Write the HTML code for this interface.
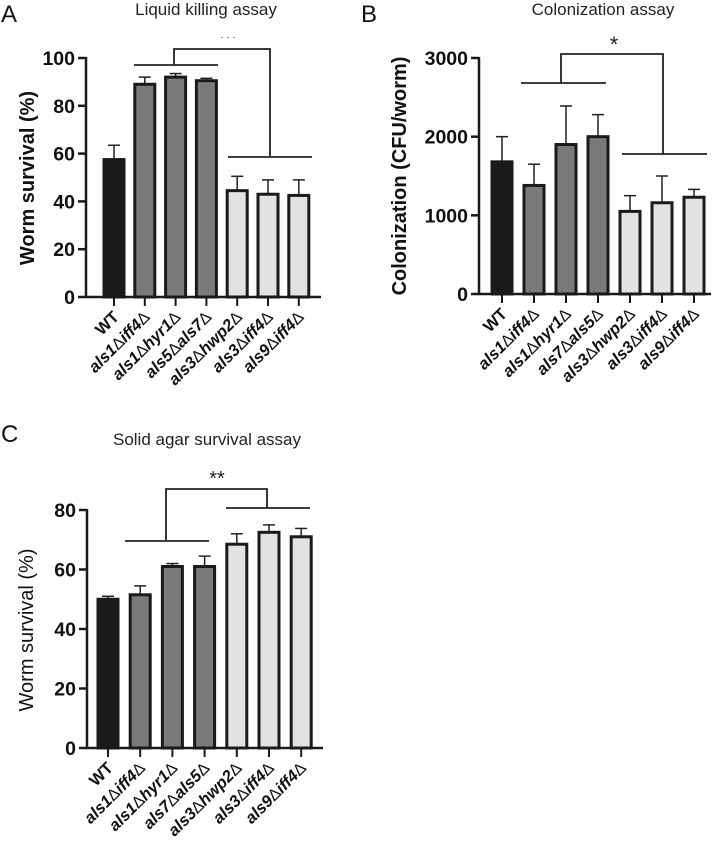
<!DOCTYPE html>
<html><head><meta charset="utf-8">
<style>
body{margin:0;background:#fff;}
svg{display:block;font-family:"Liberation Sans",Arial,sans-serif;}
</style></head>
<body>
<svg id="fig" width="718" height="843" viewBox="0 0 718 843"></svg>
<script>
const categoriesA = ["WT","als1|iff4","als1|hyr1","als5|als7","als3|hwp2","als3|iff4","als9|iff4"];
const valuesA = [57.5, 89, 92, 90.5, 44.5, 43, 42.5];
const errorsA = [6, 3, 1.5, 1, 6, 6, 6.5];
const ticksA = [0, 20, 40, 60, 80, 100];

const categoriesB = ["WT","als1|iff4","als1|hyr1","als7|als5","als3|hwp2","als3|iff4","als9|iff4"];
const valuesB = [1680, 1380, 1900, 2000, 1050, 1160, 1230];
const errorsB = [320, 270, 490, 280, 200, 340, 100];
const ticksB = [0, 1000, 2000, 3000];

const categoriesC = ["WT","als1|iff4","als1|hyr1","als7|als5","als3|hwp2","als3|iff4","als9|iff4"];
const valuesC = [50, 51.5, 61, 61, 68.5, 72.5, 71];
const errorsC = [1, 3, 1, 3.5, 3.5, 2.5, 2.8];
const ticksC = [0, 20, 40, 60, 80];

const NS = "http://www.w3.org/2000/svg";
const svg = document.getElementById("fig");
function mk(tag, attrs, parent){
  const e = document.createElementNS(NS, tag);
  for (const k in attrs) e.setAttribute(k, attrs[k]);
  (parent||svg).appendChild(e);
  return e;
}
const fills = ["#1a1a1a","#7a7a7a","#7a7a7a","#7a7a7a","#e2e2e2","#e2e2e2","#e2e2e2"];

function panel(p){
  const g = mk("g", {});
  
  
  const yScale = v => p.y0 - (v - p.min) / (p.max - p.min) * (p.y0 - p.yTop);
  const xScale = i => p.x0 + p.first + i * p.step;
  const L = mk("text", {x:p.lx, y:p.ly, "font-size":24, fill:"#111"}, g);
  L.textContent = p.letter;
  
  
  const T = mk("text", {x:p.tx, y:p.ty, "font-size":17, "text-anchor":"middle", fill:"#222"}, g);
  T.textContent = p.title;
  
  
  const YL = mk("text", {x:0, y:0, "font-size":p.ylSize, "font-weight":p.ylWeight, "text-anchor":"middle", fill:"#111",
    transform:`translate(${p.ylx},${p.yly}) rotate(-90)`}, g);
  YL.textContent = p.ylabel;
  
  
  p.values.forEach((v,i)=>{
    const cx = xScale(i);
    const top = yScale(v), et = yScale(v + p.errors[i]);
    const el = mk("line", {x1:cx, x2:cx, y1:top, y2:et, stroke:"#222", "stroke-width":1.5}, g);
    
    
    const ec = mk("line", {x1:cx-6, x2:cx+6, y1:et, y2:et, stroke:"#222", "stroke-width":1.5}, g);
    
    
    const r = mk("rect", {x:cx-p.bw/2, y:top, width:p.bw, height:p.y0-top, fill:fills[i], stroke:"#1a1a1a", "stroke-width":3}, g);
    
    
    mk("line", {x1:cx, x2:cx, y1:p.y0, y2:p.y0+9, stroke:"#1a1a1a", "stroke-width":2}, g);
    const t = mk("text", {x:0, y:0, "font-size":16.5, "font-weight":"bold", "text-anchor":"end", fill:"#111",
      transform:`translate(${cx+6},${p.y0+21}) rotate(-45)`}, g);
    
    
    const c = p.cats[i];
    if (c === "WT") { t.textContent = "WT"; }
    else {
      const parts = c.split("|");
      const s1 = mk("tspan", {"font-style":"italic"}, t); s1.textContent = parts[0];
      const d1 = mk("tspan", {"font-weight":"normal"}, t); d1.textContent = "\u0394";
      const s2 = mk("tspan", {"font-style":"italic"}, t); s2.textContent = parts[1];
      const d2 = mk("tspan", {"font-weight":"normal"}, t); d2.textContent = "\u0394";
    }
  });
  const ya = mk("line", {x1:p.x0, x2:p.x0, y1:p.yTop-1, y2:p.y0+1, stroke:"#1a1a1a", "stroke-width":2.5}, g);
  
  
  const xa = mk("line", {x1:p.x0-1, x2:p.xEnd, y1:p.y0, y2:p.y0, stroke:"#1a1a1a", "stroke-width":2.5}, g);
  
  
  p.ticks.forEach(tv=>{
    const y = yScale(tv);
    mk("line", {x1:p.x0-8, x2:p.x0, y1:y, y2:y, stroke:"#1a1a1a", "stroke-width":2.5}, g);
    const tl = mk("text", {x:p.x0-11, y:y+7, "font-size":19.5, "font-weight":"bold", "text-anchor":"end", fill:"#111"}, g);
    tl.textContent = tv;
    
    
  });
  const b = p.br;
  const br = mk("path", {d:`M${b.l1},${b.ly} H${b.l2} M${b.lv},${b.ly} V${b.top} H${b.rv} V${b.ry} M${b.r1},${b.ry} H${b.r2}`,
    fill:"none", stroke:"#222", "stroke-width":1.8}, g);
  
  
  const st = mk("text", {x:b.sx, y:b.sy, "font-size":b.ss, "text-anchor":"middle", fill:"#222"}, g);
  st.textContent = b.star;
  
  
}

panel({name:"panel-a-liquid-killing", letter:"A", lx:1, ly:22, title:"Liquid killing assay", tx:206, ty:15,
  ylabel:"Worm survival (%)", ylx:34, yly:178, ylSize:20, ylWeight:"bold",
  cats:categoriesA, values:valuesA, errors:errorsA, ticks:ticksA, min:0, max:100,
  x0:86, y0:297, yTop:58, xEnd:321, first:28, step:30.8, bw:20,
  br:{l1:134,l2:218,ly:65,lv:174,top:49,rv:270,ry:157,r1:228,r2:312,sx:228,sy:40,star:"· · ·",ss:10}});

panel({name:"panel-b-colonization", letter:"B", lx:361, ly:22, title:"Colonization assay", tx:603, ty:15,
  ylabel:"Colonization (CFU/worm)", ylx:406, yly:176, ylSize:20, ylWeight:"bold",
  cats:categoriesB, values:valuesB, errors:errorsB, ticks:ticksB, min:0, max:3000,
  x0:479, y0:294, yTop:58, xEnd:711, first:23, step:32, bw:20,
  br:{l1:521,l2:606,ly:83,lv:561,top:54,rv:663,ry:154,r1:622,r2:707,sx:614,sy:52,star:"*",ss:22}});

panel({name:"panel-c-solid-agar", letter:"C", lx:1, ly:442, title:"Solid agar survival assay", tx:207, ty:445,
  ylabel:"Worm survival (%)", ylx:33, yly:630, ylSize:20, ylWeight:"normal",
  cats:categoriesC, values:valuesC, errors:errorsC, ticks:ticksC, min:0, max:80,
  x0:87, y0:748, yTop:510, xEnd:323, first:21, step:32.2, bw:20,
  br:{l1:125,l2:209,ly:541,lv:166,top:489,rv:267,ry:508,r1:226,r2:310,sx:217,sy:485,star:"**",ss:20}});
</script>
</body></html>
